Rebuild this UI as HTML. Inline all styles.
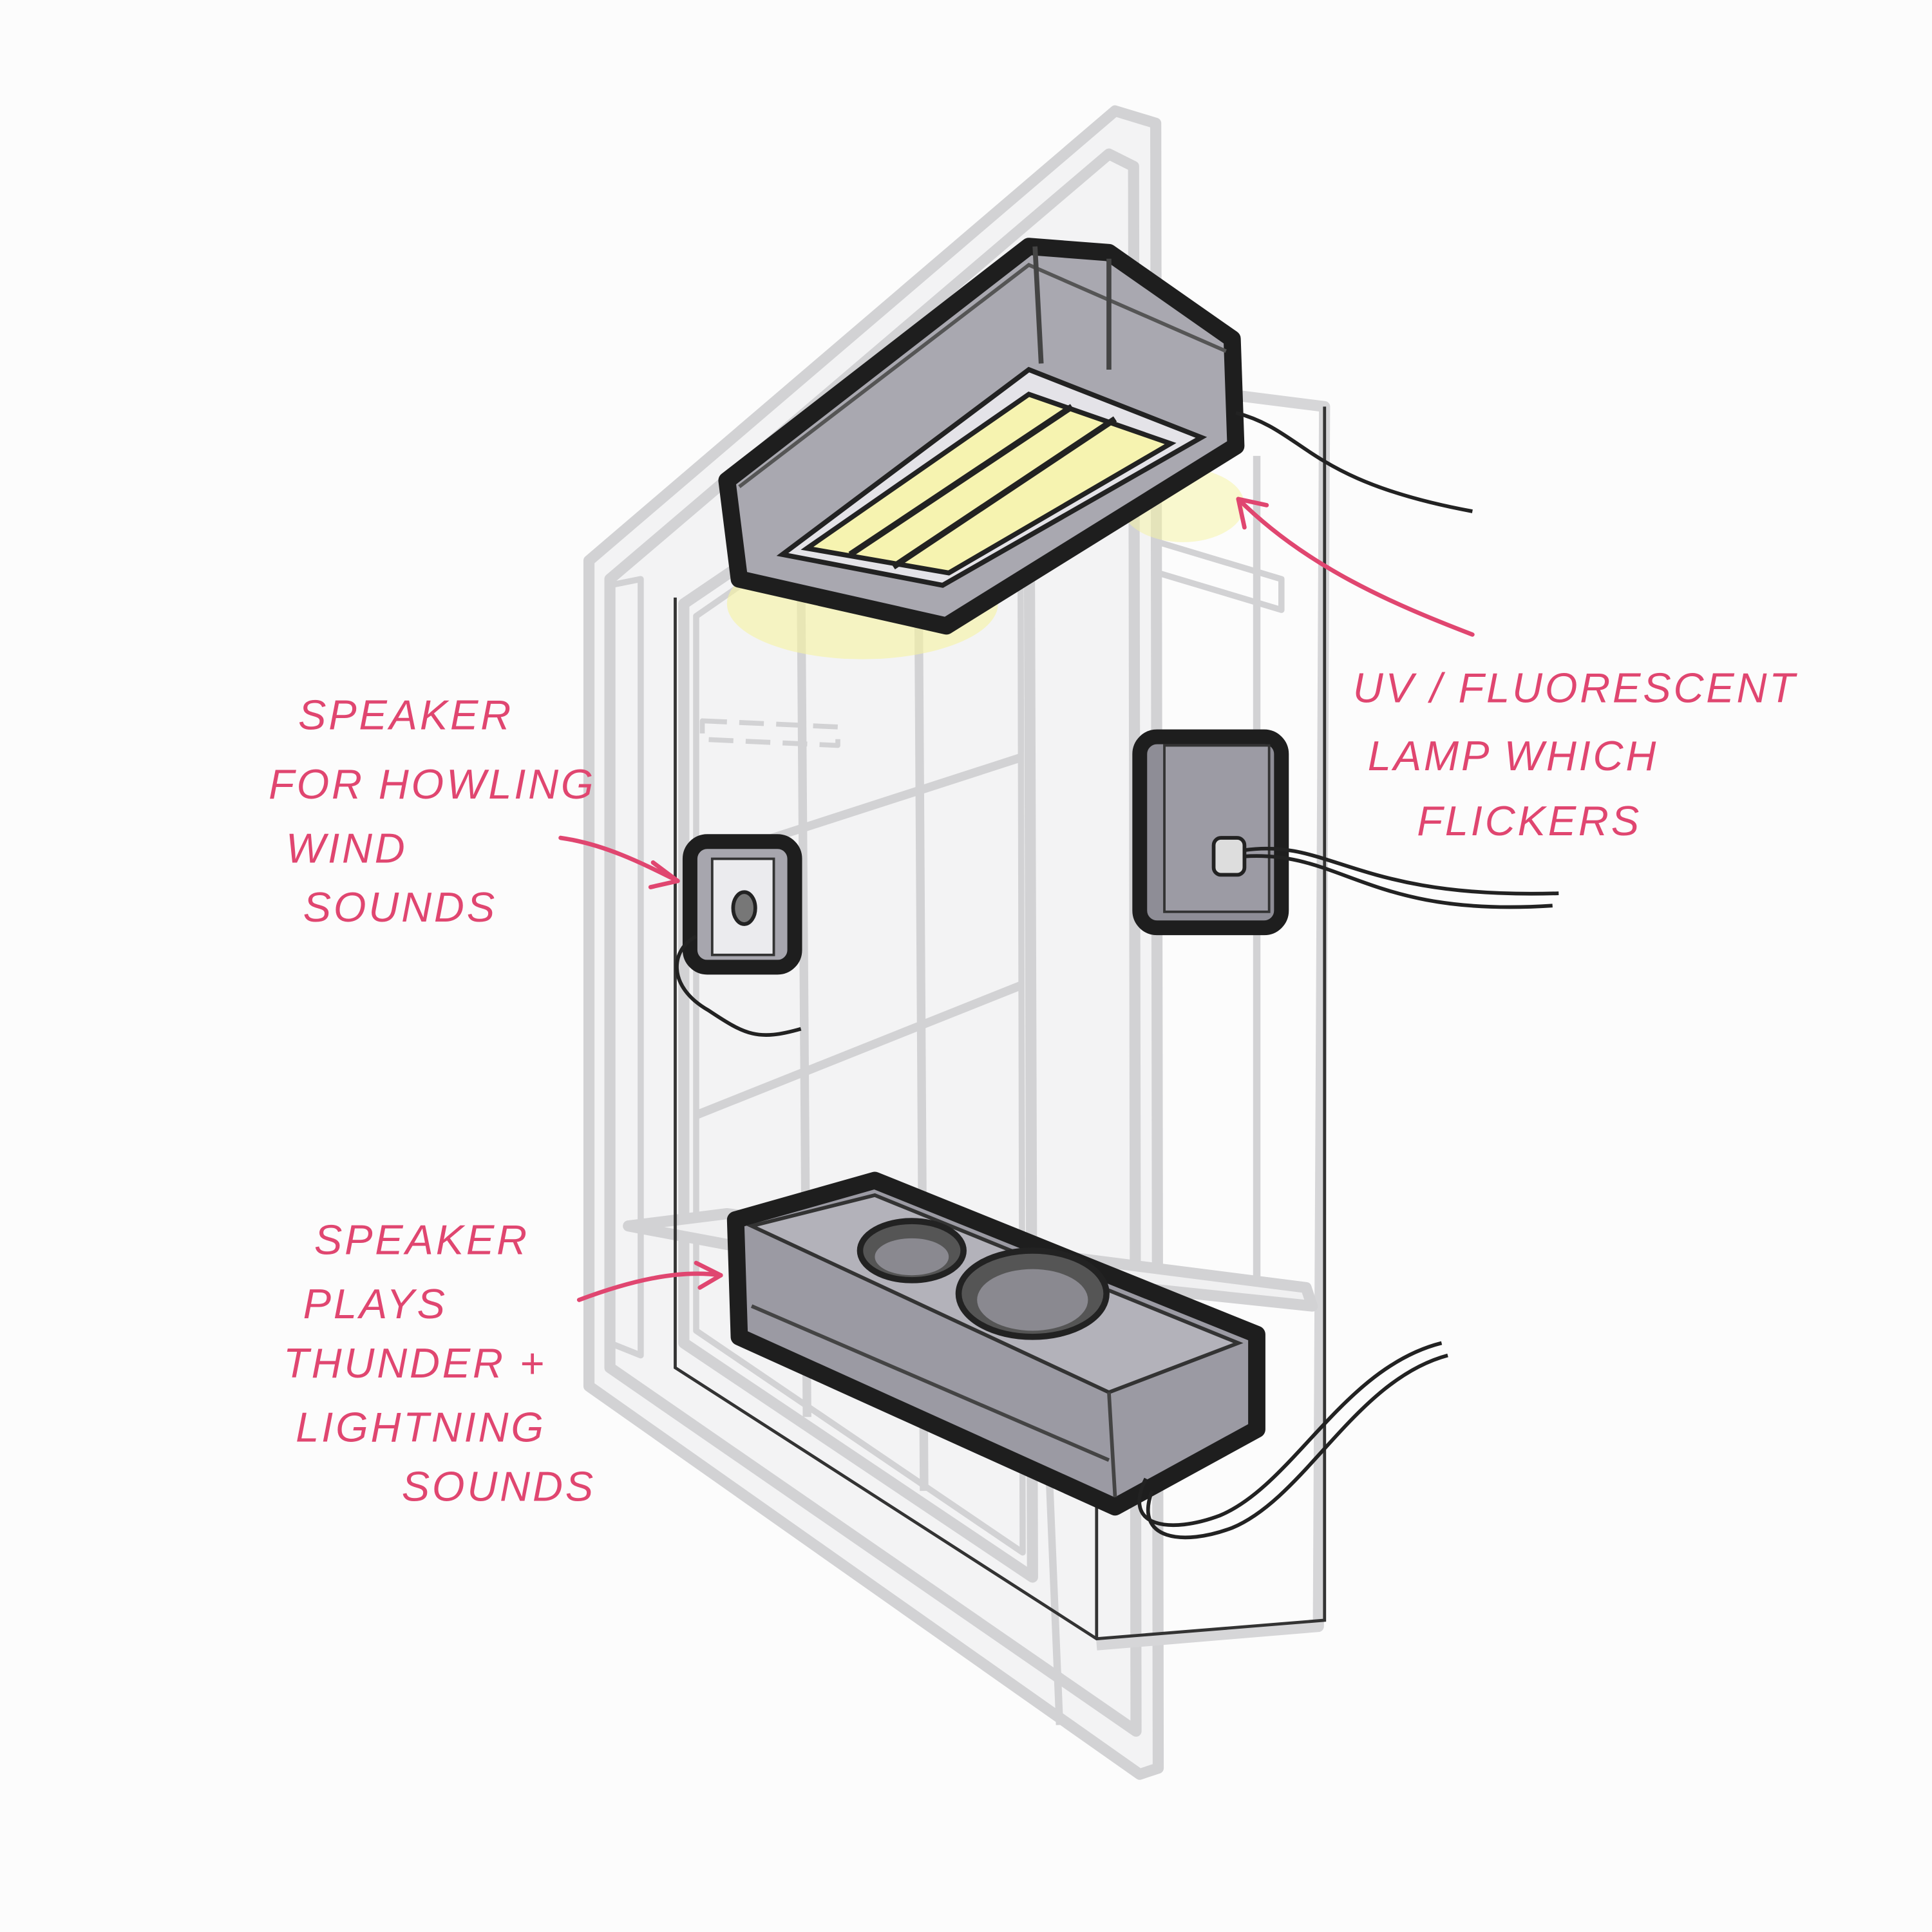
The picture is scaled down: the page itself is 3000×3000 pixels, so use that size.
<!DOCTYPE html>
<html><head><meta charset="utf-8"><style>
html,body{margin:0;padding:0;background:#fdfdfd;}
svg{display:block;}
text{font-family:"Liberation Sans",sans-serif;font-style:italic;fill:#e04670;font-size:34px;letter-spacing:2px;}
</style></head><body>
<svg width="3000" height="3000" viewBox="0 0 1568 1568" xmlns="http://www.w3.org/2000/svg">
<rect width="1568" height="1568" fill="#fcfcfc"/>
<g fill="none" stroke="#d2d2d4" stroke-width="9" stroke-linejoin="round">
<!-- outer window frame -->
<path d="M478 455 L905 90 L938 100 L940 1435 L925 1440 L478 1125 Z" fill="#f3f3f4"/>
<path d="M495 470 L900 125 L920 135 L922 1405 L495 1110 Z"/>
<!-- inner sash -->
<path d="M555 490 L835 300 L838 1280 L555 1090 Z"/>
<path d="M565 500 L828 318 L830 1260 L565 1080 Z" stroke-width="5"/>
<!-- mullions -->
<path d="M650 455 L655 1150 M745 400 L750 1210 M565 700 L828 615 M565 905 L828 800" stroke-width="7"/>
<!-- right box side -->
<path d="M838 300 L1075 330 L1070 1320 L890 1335" stroke="#d6d6d8"/>
<path d="M1020 370 L1020 1040" stroke-width="6"/>
<!-- side panels -->
<path d="M495 475 L520 470 L520 1100 L495 1090 Z" stroke-width="5"/>
<!-- sill -->
<path d="M510 995 L590 985 L1060 1045 L1065 1060 L590 1010 Z" fill="#f0f0f1"/>
<path d="M850 1160 L860 1400" stroke-width="6"/>
<!-- rod -->
<path d="M940 440 L1040 470 L1040 495 L940 465 Z" stroke-width="5"/>
<path d="M570 585 L680 590 L680 605 L570 600 Z" stroke-width="4" stroke-dasharray="20 10"/>
</g>
<!-- thin box outline -->
<g fill="none" stroke="#333" stroke-width="2.5">
<path d="M548 485 L548 1110 L890 1330 L1075 1315 L1075 330"/>
<path d="M890 1330 L890 1220"/>
</g>
<!-- lamp glow -->
<ellipse cx="700" cy="490" rx="110" ry="45" fill="#f6f4a0" opacity="0.6"/>
<ellipse cx="960" cy="410" rx="50" ry="30" fill="#f6f4a0" opacity="0.5"/>
<!-- lamp -->
<path d="M590 390 L835 200 L900 205 L1000 275 L1003 362 L768 508 L600 470 Z" fill="#a9a8b0" stroke="#1e1e1e" stroke-width="14" stroke-linejoin="round"/>
<path d="M600 395 L835 215 L995 285" fill="none" stroke="#555" stroke-width="3"/>
<path d="M835 300 L975 355 L765 475 L635 450 Z" fill="#e4e3e8" stroke="#222" stroke-width="4"/>
<path d="M655 445 L835 320 L950 360 L770 465 Z" fill="#f6f3b0" stroke="#222" stroke-width="4"/>
<path d="M690 450 L870 330 M725 460 L905 340" stroke="#222" stroke-width="5"/>
<path d="M840 200 L845 295 M900 210 L900 300" stroke="#444" stroke-width="4"/>
<!-- lamp cable -->
<path d="M1003 335 C1060 350 1060 390 1195 415" fill="none" stroke="#222" stroke-width="3"/>
<!-- left speaker -->
<rect x="560" y="683" width="85" height="102" rx="14" fill="#a7a6ae" stroke="#1e1e1e" stroke-width="12"/>
<rect x="578" y="697" width="50" height="78" fill="#ebebee" stroke="#333" stroke-width="2"/>
<ellipse cx="604" cy="737" rx="9" ry="13" fill="#777" stroke="#222" stroke-width="3"/>
<path d="M565 760 C545 770 540 800 575 820 C605 840 615 845 650 835" fill="none" stroke="#222" stroke-width="3"/>
<!-- right speaker -->
<rect x="925" y="598" width="115" height="155" rx="14" fill="#8e8d96" stroke="#1e1e1e" stroke-width="12"/>
<rect x="945" y="605" width="85" height="135" fill="#9c9ba4" stroke="#333" stroke-width="2"/>
<rect x="985" y="680" width="25" height="30" rx="6" fill="#ddd" stroke="#222" stroke-width="3"/>
<path d="M1010 690 C1080 680 1100 730 1265 725 M1010 695 C1090 690 1110 745 1260 735" fill="none" stroke="#222" stroke-width="3"/>
<!-- bottom speaker -->
<path d="M597 990 L710 958 L1020 1083 L1020 1160 L905 1223 L600 1085 Z" fill="#9b9aa3" stroke="#1e1e1e" stroke-width="14" stroke-linejoin="round"/>
<path d="M610 995 L710 970 L1005 1090 L900 1130 Z" fill="#b3b2ba" stroke="#333" stroke-width="3"/>
<ellipse cx="740" cy="1015" rx="42" ry="24" fill="#555" stroke="#222" stroke-width="5"/>
<ellipse cx="740" cy="1020" rx="30" ry="15" fill="#8a8990"/>
<ellipse cx="838" cy="1050" rx="60" ry="35" fill="#555" stroke="#222" stroke-width="5"/>
<ellipse cx="838" cy="1055" rx="45" ry="25" fill="#8a8990"/>
<path d="M900 1130 L905 1215 M610 1060 L900 1185" stroke="#444" stroke-width="3" fill="none"/>
<path d="M930 1200 C910 1240 950 1245 990 1230 C1050 1205 1090 1110 1170 1090 M935 1210 C920 1250 960 1255 1000 1240 C1060 1215 1100 1120 1175 1100" fill="none" stroke="#222" stroke-width="3"/>
<!-- arrows -->
<g fill="none" stroke="#e04670" stroke-width="3.5" stroke-linecap="round">
<path d="M1195 515 C1130 490 1060 460 1005 405"/><path d="M1005 405 L1010 428 M1005 405 L1028 410"/>
<path d="M455 680 C490 685 520 700 550 715"/><path d="M550 715 L530 700 M550 715 L528 720"/>
<path d="M470 1055 C510 1040 550 1030 585 1035"/><path d="M585 1035 L565 1025 M585 1035 L568 1045"/>
</g>
<!-- labels -->
<text x="242" y="592">SPEAKER</text>
<text x="218" y="648">FOR HOWLING</text>
<text x="232" y="700">WIND</text>
<text x="246" y="748">SOUNDS</text>
<text x="1098" y="570">UV / FLUORESCENT</text>
<text x="1110" y="625">LAMP WHICH</text>
<text x="1150" y="678">FLICKERS</text>
<text x="255" y="1018">SPEAKER</text>
<text x="246" y="1070">PLAYS</text>
<text x="230" y="1118">THUNDER +</text>
<text x="240" y="1170">LIGHTNING</text>
<text x="326" y="1218">SOUNDS</text>
</svg>
</body></html>
